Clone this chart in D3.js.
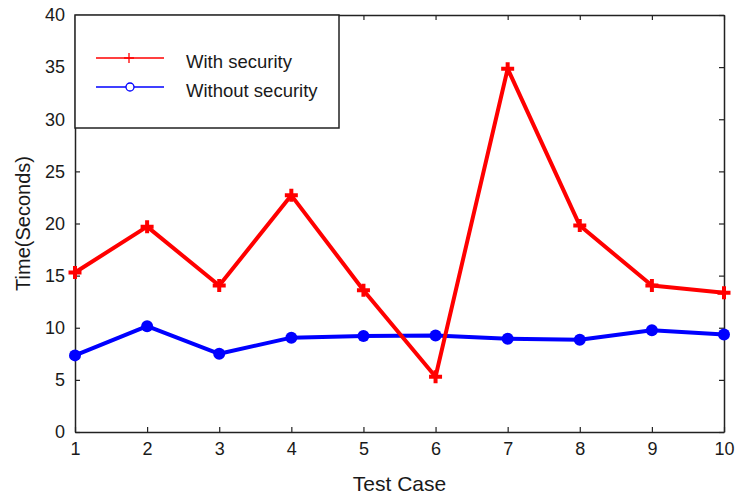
<!DOCTYPE html>
<html>
<head>
<meta charset="utf-8">
<script src="https://cdn.jsdelivr.net/npm/d3@7"></script>
<style>
  body { margin: 0; background: #fff; }
  text { font-family: "Liberation Sans", Arial, sans-serif; fill: #1a1a1a; }
</style>
</head>
<body>
<div id="chart"></div>
<script>
const testCases = [1, 2, 3, 4, 5, 6, 7, 8, 9, 10];
const withSecurity = [15.3, 19.7, 14.05, 22.7, 13.6, 5.3, 34.85, 19.8, 14.05, 13.35];
const withoutSecurity = [7.35, 10.15, 7.5, 9.05, 9.2, 9.25, 8.95, 8.85, 9.75, 9.35];
const yTicks = [0, 5, 10, 15, 20, 25, 30, 35, 40];
const seriesNames = ['With security', 'Without security'];

const width = 739, height = 496;
const margin = { top: 15, right: 15, bottom: 64, left: 75 };
const w = width - margin.left - margin.right;
const h = height - margin.top - margin.bottom;

const svg = d3.select('#chart').append('svg')
  .attr('width', width)
  .attr('height', height);

const g = svg.append('g')
  .attr('transform', 'translate(' + margin.left + ',' + margin.top + ')');

let xScale = d3.scaleLinear().domain([1, 10]).range([0, w]);
let yScale = d3.scaleLinear().domain([0, 40]).range([h, 0]);

// axes (inward ticks, box on)
const axisColor = '#222';
let xAxis = g.append('g').attr('transform', 'translate(0,' + h + ')')
  .call(d3.axisBottom(xScale).tickValues(testCases).tickSizeInner(-5).tickSizeOuter(0).tickPadding(10));
let xTop = g.append('g')
  .call(d3.axisTop(xScale).tickValues(testCases).tickSizeInner(-5).tickSizeOuter(0).tickFormat(''));
let yAxis = g.append('g')
  .call(d3.axisLeft(yScale).tickValues(yTicks).tickSizeInner(-5).tickSizeOuter(0).tickPadding(10));
let yRight = g.append('g').attr('transform', 'translate(' + w + ',0)')
  .call(d3.axisRight(yScale).tickValues(yTicks).tickSizeInner(-5).tickSizeOuter(0).tickFormat(''));

[xAxis, xTop, yAxis, yRight].forEach(a => {
  a.selectAll('path.domain').attr('stroke', axisColor).attr('stroke-width', 1.5);
  a.selectAll('.tick line').attr('stroke', axisColor).attr('stroke-width', 1.2);
  a.selectAll('.tick text').style('font-size', '18px').style('font-family', '"Liberation Sans", Arial, sans-serif').attr('fill', '#1a1a1a');
});

// lines
let line = d3.line().x((d, i) => xScale(testCases[i])).y(d => yScale(d));

g.append('path').datum(withoutSecurity)
  .attr('fill', 'none').attr('stroke', '#0000ff').attr('stroke-width', 4)
  .attr('stroke-linejoin', 'round')
  .attr('d', line);

g.append('path').datum(withSecurity)
  .attr('fill', 'none').attr('stroke', '#ff0000').attr('stroke-width', 4)
  .attr('stroke-linejoin', 'round')
  .attr('d', line);

g.selectAll('circle.pt')
  .data(withoutSecurity)
  .enter()
  .append('circle')
  .attr('class', 'pt')
  .attr('cx', (d, i) => xScale(testCases[i]))
  .attr('cy', d => yScale(d))
  .attr('r', 6)
  .attr('fill', '#0000ff');

g.selectAll('path.plus')
  .data(withSecurity)
  .enter()
  .append('path')
  .attr('class', 'plus')
  .attr('transform', (d, i) => 'translate(' + xScale(testCases[i]) + ',' + yScale(d) + ')')
  .attr('d', 'M-6.5,0H6.5M0,-6.5V6.5')
  .attr('stroke', '#ff0000')
  .attr('stroke-width', 4)
  .attr('fill', 'none');

// legend
let legend = g.append('g');
legend.append('rect')
  .attr('x', 0).attr('y', 0)
  .attr('width', 264).attr('height', 113)
  .attr('fill', '#fff')
  .attr('stroke', axisColor)
  .attr('stroke-width', 1.5);

let legendColors = ['#ff0000', '#0000ff'];
let legendY = [43, 72];
seriesNames.forEach((name, i) => {
  legend.append('line')
    .attr('x1', 21).attr('x2', 89)
    .attr('y1', legendY[i]).attr('y2', legendY[i])
    .attr('stroke', legendColors[i]).attr('stroke-width', 1.3);
  if (i === 0) {
    legend.append('path')
      .attr('d', 'M' + 49 + ',' + legendY[i] + 'h10M' + 54 + ',' + (legendY[i] - 5) + 'v10')
      .attr('stroke', legendColors[i]).attr('stroke-width', 1.3);
  } else {
    legend.append('circle')
      .attr('cx', 55).attr('cy', legendY[i]).attr('r', 4)
      .attr('fill', '#fff').attr('stroke', legendColors[i]).attr('stroke-width', 1.3);
  }
  legend.append('text')
    .attr('x', 111).attr('y', legendY[i] + 9.5)
    .style('font-size', '18.5px')
    .text(name);
});

// axis titles
svg.append('text')
  .attr('x', margin.left + w / 2)
  .attr('y', 491)
  .attr('text-anchor', 'middle')
  .style('font-size', '21px')
  .text('Test Case');

svg.append('text')
  .attr('transform', 'translate(30,' + (margin.top + h / 2) + ') rotate(-90)')
  .attr('text-anchor', 'middle')
  .style('font-size', '20px')
  .text('Time(Seconds)');
</script>
</body>
</html>
